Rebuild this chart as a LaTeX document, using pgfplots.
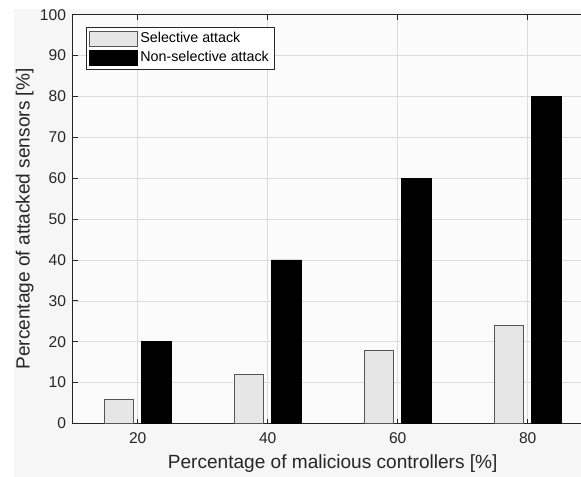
\documentclass[border=0pt]{standalone}
\usepackage{pgfplots}
\pgfplotsset{compat=1.18}
\usepackage{fontspec}
\setmainfont{Liberation Sans}
\definecolor{figbg}{RGB}{246,246,246}
\definecolor{axbg}{RGB}{251,251,251}
\definecolor{gridc}{RGB}{220,220,220}
\definecolor{axc}{RGB}{38,38,38}
\definecolor{selfill}{RGB}{230,230,230}
\definecolor{seledge}{RGB}{85,85,85}
\begin{document}
\begin{tikzpicture}
\fill[white] (-54.5pt,-40.1pt) rectangle (381.2pt,317.6pt);
\fill[figbg] (-44pt,-40.1pt) rectangle (381.2pt,310.9pt);
\useasboundingbox (-54.5pt,-40.1pt) rectangle (381.2pt,317.6pt);
\begin{axis}[
  scale only axis, width=390pt, height=306.6pt,
  xmin=10, xmax=90, ymin=0, ymax=100,
  xtick={20,40,60,80}, ytick={0,10,...,100},
  grid=major, major grid style={gridc, line width=0.5pt},
  axis line style={axc, line width=0.6pt},
  tick style={axc, line width=0.6pt}, major tick length=3.75pt,
  tick align=inside,
  axis background/.style={fill=axbg},
  ticklabel style={font=\fontsize{11.7}{13.5}\selectfont, text=axc},
  yticklabel style={xshift=-1.5pt},
  xticklabel style={yshift=-3pt},
  /pgf/number format/assume math mode=true,
  xlabel={Percentage of malicious controllers [\%]},
  ylabel={Percentage of attacked sensors [\%]},
  label style={font=\fontsize{14.3}{17}\selectfont, text=axc},
  xlabel style={at={(axis description cs:0.5,0)}, anchor=center, yshift=-30.4pt},
  ylabel style={at={(axis description cs:0,0.5)}, anchor=center, yshift=36pt},
  legend style={at={(0,1)}, anchor=north west, xshift=10pt, yshift=-9.2pt,
    draw=axc, fill=white, font=\fontsize{10.7}{12}\selectfont,
    inner sep=2pt, row sep=1pt, cells={anchor=west}},
  legend image code/.code={\draw[#1] (0pt,-5.5pt) rectangle (36pt,5.5pt);},
]
\addplot[ybar, bar width=22pt, bar shift=-14pt, fill=selfill, draw=seledge, line width=0.6pt]
  coordinates {(20,6) (40,12) (60,18) (80,24)};
\addlegendentry{Selective attack}
\addplot[ybar, bar width=22pt, bar shift=14pt, fill=black, draw=black, line width=0.6pt]
  coordinates {(20,20) (40,40) (60,60) (80,80)};
\addlegendentry{Non-selective attack}
\end{axis}
\end{tikzpicture}
\end{document}
